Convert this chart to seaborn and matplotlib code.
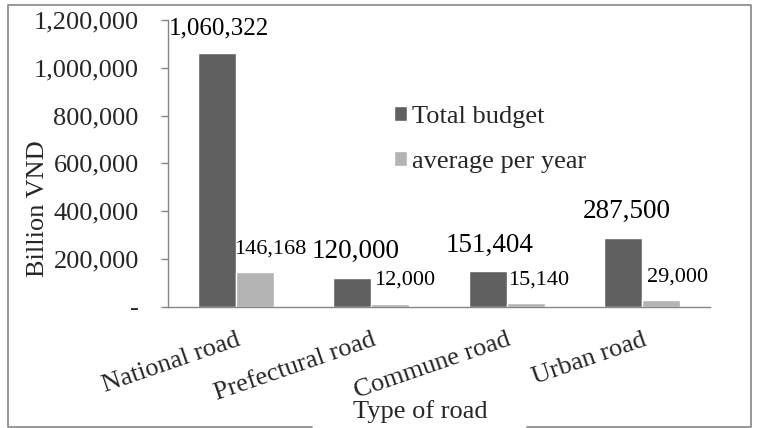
import matplotlib
matplotlib.use("Agg")
import matplotlib.pyplot as plt
import seaborn as sns
import pandas as pd
from matplotlib.lines import Line2D

categories = ["National road", "Prefectural road", "Commune road", "Urban road"]
total_budget = [1060322, 120000, 151404, 287500]
average_per_year = [146168, 12000, 15140, 29000]
series_names = ["Total budget", "average per year"]
y_ticks = [0, 200000, 400000, 600000, 800000, 1000000, 1200000]
y_tick_labels = ["-", "200,000", "400,000", "600,000", "800,000", "1,000,000", "1,200,000"]

df = pd.DataFrame({
    "road": categories * 2,
    "value": total_budget + average_per_year,
    "series": [series_names[0]] * 4 + [series_names[1]] * 4,
})

sns.set_theme(style="white")
plt.rcParams["font.family"] = ["Liberation Serif", "DejaVu Serif"]

W, H = 759, 428
fig = plt.figure(figsize=(W / 100, H / 100), dpi=100)
ax = fig.add_axes([168 / W, 1 - 306.7 / H, (710 - 168) / W, (306.7 - 20) / H])

colors = ["#606060", "#b4b4b4"]
sns.barplot(data=df, x="road", y="value", hue="series", palette=colors,
            width=0.56, ax=ax, saturation=1, legend=True, gap=0)

FS = 19
ax.set_xlim(-0.5, 3.5)
ax.set_ylim(0, 1200000)
ax.set_yticks(y_ticks)
ax.set_yticklabels(y_tick_labels, fontsize=FS)
ax.set_xticks(range(4))
ax.set_xticklabels(categories, fontsize=FS, rotation=19, ha="right",
                   rotation_mode="anchor")
ax.set_xticks([-0.5, 0.5, 1.5, 2.5, 3.5], minor=True)
ax.tick_params(axis="x", which="major", length=0, pad=16)
ax.tick_params(axis="x", which="minor", length=5, color="#868686", width=1)
ax.tick_params(axis="y", length=5, color="#868686", width=1, left=True, pad=16)
ax.set_xlabel("")
ax.set_ylabel("")
for s in ["top", "right"]:
    ax.spines[s].set_visible(False)
for s in ["left", "bottom"]:
    ax.spines[s].set_color("#868686")
    ax.spines[s].set_linewidth(1)

# data labels
big = 19.5
small = 16
label_specs = [
    # (series index, category index, fontsize, dx px, dy px)
    (0, 0, 18, 2, 25),
    (1, 0, small, 16, 23),
    (0, 1, big, 3, 27),
    (1, 1, small, 14, 24),
    (0, 2, big, 2, 25.5),
    (1, 2, small, 13, 23.5),
    (0, 3, big, 3, 27),
    (1, 3, small, 16, 23),
]
offsets = [-0.14, 0.14]
series_vals = [total_budget, average_per_year]
for si, ci, fs, dx, dy in label_specs:
    v = series_vals[si][ci]
    ax.annotate(f"{v:,}", xy=(ci + offsets[si], v), xytext=(dx * 0.72, dy * 0.72),
                textcoords="offset points", ha="center", va="center",
                fontsize=fs, color="black")

leg = ax.legend(loc="upper left", bbox_to_anchor=((383 - 168) / (710 - 168), 1 - (95 - 20) / 286.7),
                frameon=False, fontsize=FS, handlelength=0.5, handleheight=0.5,
                handletextpad=0.2, labelspacing=0.9, borderaxespad=0)

fig.text(38 / W, 1 - 209 / H, "Billion VND", rotation=90, ha="center", va="center",
         fontsize=FS)
fig.text(420 / W, 1 - 412 / H, "Type of road", ha="center", va="center",
         fontsize=FS)

# chart-area border with the gap under the axis title
bx = [312, 8, 8, 751, 751, 527]
by = [426.5, 426.5, 5, 5, 426.5, 426.5]
fig.lines.append(Line2D([x / W for x in bx], [1 - y / H for y in by],
                        transform=fig.transFigure, color="#868686", linewidth=1.2))

fig.savefig("out.png", dpi=100)
